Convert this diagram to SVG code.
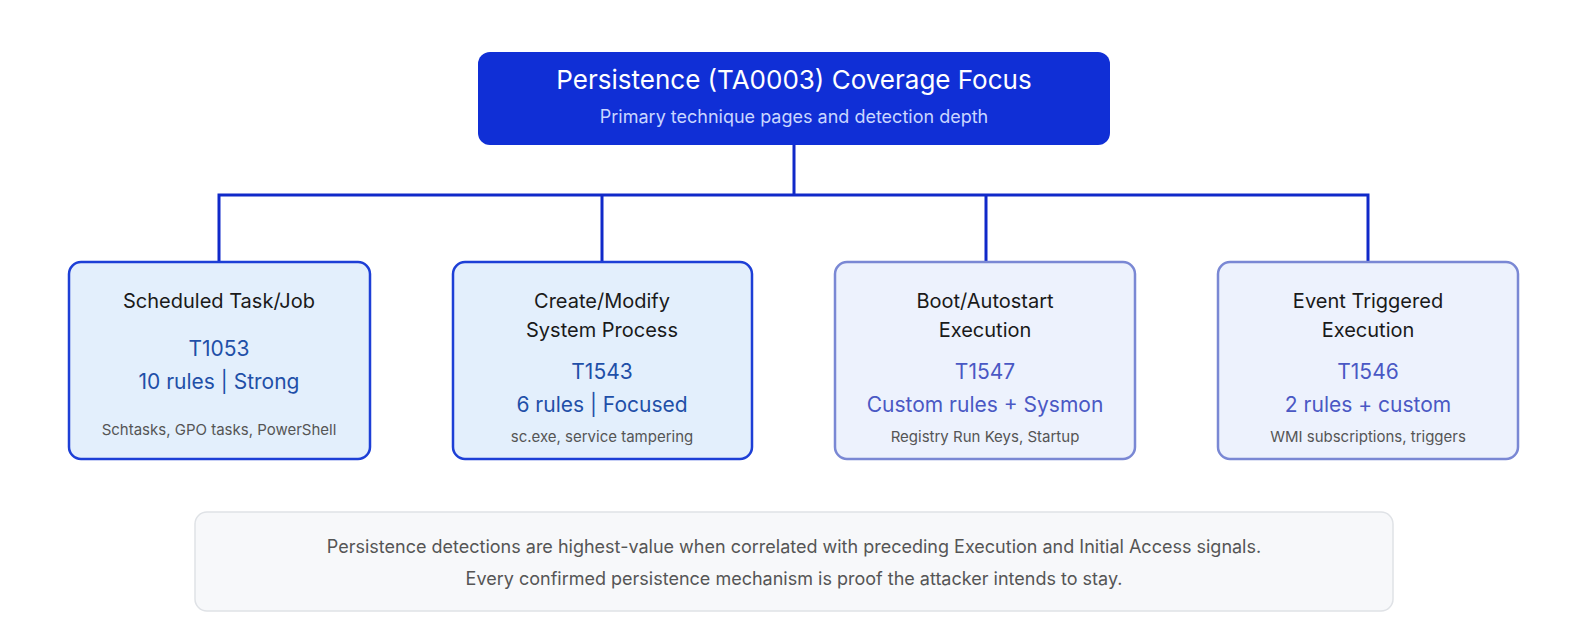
<svg xmlns="http://www.w3.org/2000/svg" width="1576" height="640" viewBox="0 0 1576 640">
<style>
text{font-family:Inter,"Liberation Sans",sans-serif;text-anchor:middle}
.a{fill:#e3effc;stroke:#1d3fd6;stroke-width:2.5}
.b{fill:#edf2fd;stroke:#7a88d4;stroke-width:2.5}
.t{font-size:20px;fill:#1a1a1a}
.c1{font-size:21px;fill:#1f4fa8}
.c2{font-size:21px;fill:#4a58c4}
.s{font-size:15px;fill:#555}
.w{fill:none;stroke:#1029c9;stroke-width:3}
</style>
<rect width="1576" height="640" fill="#fff"/>
<g id="connectors">
<path class="w" d="M794 145V195M219 262V195H1368V262M602 195V262M986 195V262"/>
</g>
<g id="root">
<rect x="478" y="52" width="632" height="93" rx="12" fill="#102fd6"/>
<text x="794" y="89" font-size="26" fill="#fff">Persistence (TA0003) Coverage Focus</text>
<text x="794" y="123" font-size="18" fill="#c9d6ff">Primary technique pages and detection depth</text>
</g>
<g id="n1">
<rect class="a" x="69" y="262" width="301" height="197" rx="12"/>
<text class="t" x="219" y="308">Scheduled Task/Job</text>
<text class="c1" x="219" y="356">T1053</text>
<text class="c1" x="219" y="389">10 rules | Strong</text>
<text class="s" x="219" y="435">Schtasks, GPO tasks, PowerShell</text>
</g>
<g id="n2">
<rect class="a" x="453" y="262" width="299" height="197" rx="12"/>
<text class="t" x="602" y="308">Create/Modify</text>
<text class="t" x="602" y="337">System Process</text>
<text class="c1" x="602" y="379">T1543</text>
<text class="c1" x="602" y="412">6 rules | Focused</text>
<text class="s" x="602" y="442">sc.exe, service tampering</text>
</g>
<g id="n3">
<rect class="b" x="835" y="262" width="300" height="197" rx="12"/>
<text class="t" x="985" y="308">Boot/Autostart</text>
<text class="t" x="985" y="337">Execution</text>
<text class="c2" x="985" y="379">T1547</text>
<text class="c2" x="985" y="412">Custom rules + Sysmon</text>
<text class="s" x="985" y="442">Registry Run Keys, Startup</text>
</g>
<g id="n4">
<rect class="b" x="1218" y="262" width="300" height="197" rx="12"/>
<text class="t" x="1368" y="308">Event Triggered</text>
<text class="t" x="1368" y="337">Execution</text>
<text class="c2" x="1368" y="379">T1546</text>
<text class="c2" x="1368" y="412">2 rules + custom</text>
<text class="s" x="1368" y="442">WMI subscriptions, triggers</text>
</g>
<g id="note">
<rect x="195" y="512" width="1198" height="99" rx="12" fill="#f7f8fa" stroke="#dfe2e6" stroke-width="1.5"/>
<text x="794" y="553" font-size="18" fill="#555">Persistence detections are highest-value when correlated with preceding Execution and Initial Access signals.</text>
<text x="794" y="585" font-size="18" fill="#555">Every confirmed persistence mechanism is proof the attacker intends to stay.</text>
</g>
</svg>
